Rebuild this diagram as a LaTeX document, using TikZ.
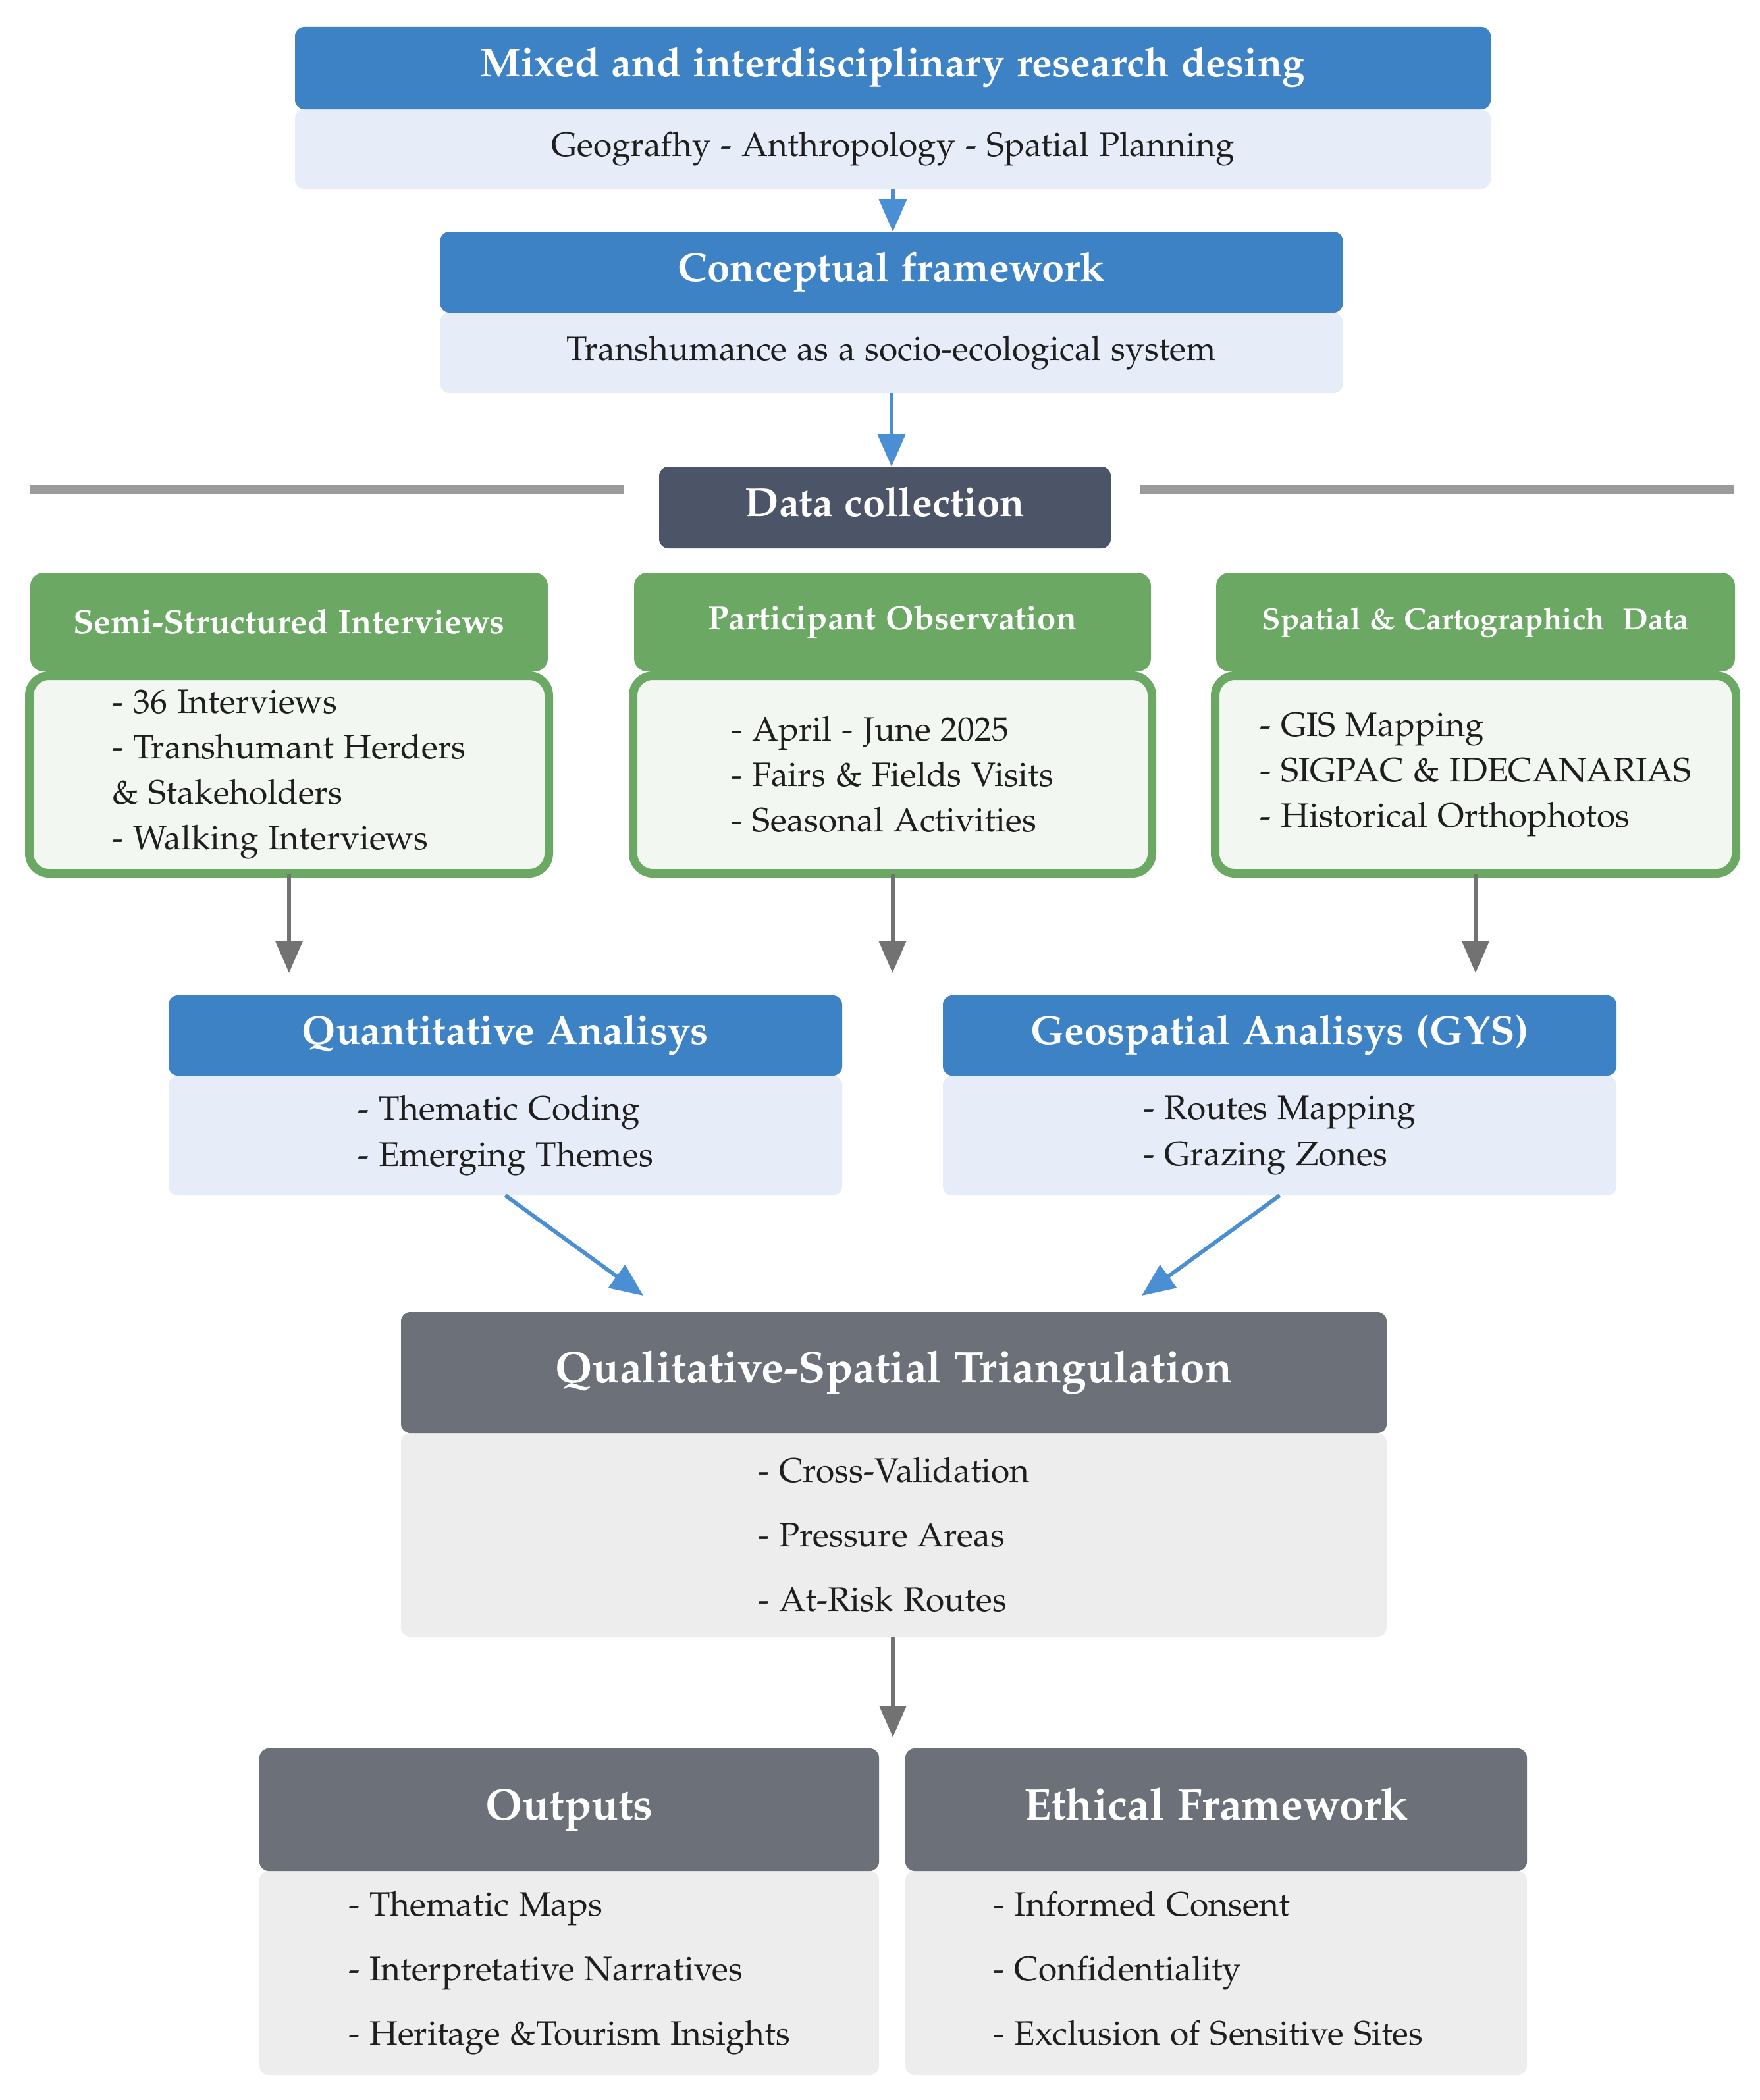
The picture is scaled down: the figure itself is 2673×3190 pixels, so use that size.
\documentclass[tikz,border=0pt]{standalone}
\IfFileExists{mathpazo.sty}{\usepackage[T1]{fontenc}\usepackage[sc]{mathpazo}}{\usepackage{fontspec}\setmainfont{Liberation Serif}}
\usetikzlibrary{arrows.meta,calc}
\definecolor{blueT}{HTML}{3E82C6}
\definecolor{blueL}{HTML}{E7EDF8}
\definecolor{slate}{HTML}{4B5567}
\definecolor{greenH}{HTML}{6AA864}
\definecolor{greenB}{HTML}{F3F7F1}
\definecolor{grayT}{HTML}{6C7179}
\definecolor{grayL}{HTML}{EDEDED}
\definecolor{arrgray}{HTML}{727272}
\definecolor{arrblue}{HTML}{4A8ED4}
\definecolor{sepgray}{HTML}{9B9B9B}
\definecolor{txt}{HTML}{1E1E1E}
\begin{document}
\begin{tikzpicture}[x=1pt,y=-1pt,
  boxbase/.style={rectangle, inner sep=0pt, outer sep=0pt, rounded corners=14pt},
  bluetitle/.style={boxbase, fill=blueT, text=white, text height=44pt, text depth=17pt, font=\fontsize{61.5}{70}\selectfont\bfseries},
  bluesub/.style={boxbase, fill=blueL, text=txt, font=\fontsize{51.5}{70}\selectfont, align=left},
  slatebox/.style={boxbase, fill=slate, text=white, text height=44pt, text depth=17pt, font=\fontsize{61.5}{70}\selectfont\bfseries},
  grayhead/.style={boxbase, fill=grayT, text=white, text height=48.5pt, text depth=18.5pt, font=\fontsize{67.5}{80}\selectfont\bfseries},
  graysub/.style={boxbase, fill=grayL, text=txt, font=\fontsize{51.5}{98}\selectfont, align=left},
  greenhead/.style={boxbase, fill=greenH, rounded corners=20pt, text=white, text height=37pt, text depth=14pt},
  greenbody/.style={boxbase, fill=greenB, draw=greenH, line width=13pt, rounded corners=30pt, text=txt, font=\fontsize{51.5}{69}\selectfont, align=left},
  barrow/.style={draw=arrblue, line width=6pt, -{Triangle[width=42pt,length=50pt]}, arrblue},
  garrow/.style={draw=arrgray, line width=6pt, -{Triangle[width=40pt,length=48pt]}, arrgray},
  sepline/.style={draw=sepgray, line width=13pt}
]
\fill[white] (0,0) rectangle (2673,3190);
\useasboundingbox (0,0) rectangle (2673,3190);

% top block
\node[bluesub, minimum width=1816pt, minimum height=121pt] (mixS) at (1356,226.5) {Geografhy - Anthropology - Spatial Planning};
\node[bluetitle, minimum width=1816pt, minimum height=125pt] (mixT) at (1356,103.5) {Mixed and interdisciplinary research desing};

% conceptual
\node[bluesub, minimum width=1371pt, minimum height=122pt] (concS) at (1354,536) {Transhumance as a socio-ecological system};
\node[bluetitle, minimum width=1371pt, minimum height=123pt] (concT) at (1354,413.5) {Conceptual framework};

% data collection
\draw[sepline] (46,743) -- (948,743);
\draw[sepline] (1732,743) -- (2634,743);
\node[slatebox, minimum width=686pt, minimum height=124pt] (dataC) at (1344,771) {Data collection};

% green boxes
\node[greenbody, minimum width=789pt, minimum height=300pt] (semiB) at (439,1176.5)
  {- 36 Interviews\\- Transhumant Herders\\\& Stakeholders\\- Walking Interviews};
\node[greenhead, minimum width=786pt, minimum height=150pt, text height=49pt, font=\fontsize{51.5}{60}\selectfont\bfseries] (semiH) at (439,945) {Semi-Structured Interviews};

\node[greenbody, minimum width=788pt, minimum height=300pt] (partB) at (1355.5,1176.5)
  {- April - June 2025\\- Fairs \& Fields Visits\\- Seasonal Activities};
\node[greenhead, minimum width=785pt, minimum height=150pt, font=\fontsize{51}{60}\selectfont\bfseries] (partH) at (1355.5,945) {Participant Observation};

\node[greenbody, minimum width=791pt, minimum height=300pt] (spatB) at (2241,1176.5)
  {- GIS Mapping\\- SIGPAC \& IDECANARIAS\\- Historical Orthophotos};
\node[greenhead, minimum width=788pt, minimum height=150pt, font=\fontsize{46.5}{56}\selectfont\bfseries] (spatH) at (2241,945) {Spatial \& Cartographich\ \ Data};

\coordinate (g1) at (439,1478);
\coordinate (g2) at (1355.5,1478);
\coordinate (g3) at (2241,1478);
\draw[garrow] (semiB.south) -- (g1);
\draw[garrow] (partB.south) -- (g2);
\draw[garrow] (spatB.south) -- (g3);

% analysis
\node[bluesub, minimum width=1023pt, minimum height=182pt] (quantS) at (767.5,1725) {- Thematic Coding\\- Emerging Themes};
\node[bluetitle, minimum width=1023pt, minimum height=122pt] (quantT) at (767.5,1573) {Quantitative Analisys};
\node[bluesub, minimum width=1023pt, minimum height=182pt] (geoS) at (1943.5,1725) {- Routes Mapping\\- Grazing Zones};
\node[bluetitle, minimum width=1023pt, minimum height=122pt] (geoT) at (1943.5,1573) {Geospatial Analisys (GYS)};

\coordinate (d1) at (977,1968);
\coordinate (d2) at (1734,1968);
\draw[barrow] (quantS.south) -- (d1);
\draw[barrow] (geoS.south) -- (d2);

% triangulation
\node[graysub, minimum width=1497pt, minimum height=309pt] (triS) at (1357.5,2331.5) {- Cross-Validation\\- Pressure Areas\\- At-Risk Routes};
\node[grayhead, minimum width=1497pt, minimum height=184pt] (triT) at (1357.5,2085) {Qualitative-Spatial Triangulation};

\coordinate (g4) at (1356,2639);
\draw[garrow] (triS.south -| g4) -- (g4);

% outputs and ethics
\node[graysub, minimum width=941pt, minimum height=310pt] (outS) at (864.5,2997) {- Thematic Maps\\- Interpretative Narratives\\- Heritage \&Tourism Insights};
\node[grayhead, minimum width=941pt, minimum height=186pt] (outT) at (864.5,2749) {Outputs};
\node[graysub, minimum width=944pt, minimum height=310pt] (ethS) at (1847,2997) {- Informed Consent\\- Confidentiality\\- Exclusion of Sensitive Sites\vphantom{g}\hspace*{24pt}};
\node[grayhead, minimum width=944pt, minimum height=186pt] (ethT) at (1847,2749) {Ethical Framework};

% connectors
\draw[barrow] (mixS.south) -- (mixS.south |- concT.north);
\draw[barrow] (concS.south) -- (concS.south |- dataC.north);
\end{tikzpicture}
\end{document}
